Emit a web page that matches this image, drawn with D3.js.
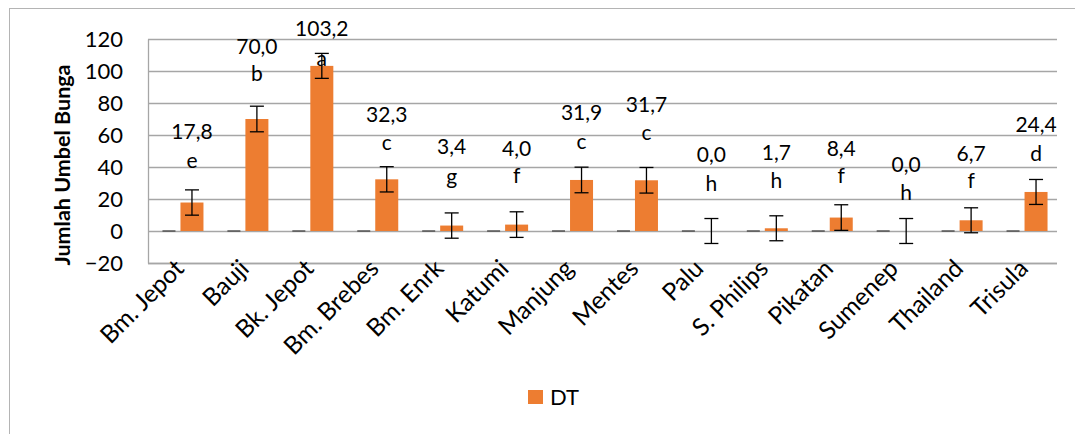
<!DOCTYPE html>
<html>
<head>
<meta charset="utf-8">
<script src="https://cdn.jsdelivr.net/npm/d3@7"></script>
<style>
  html, body { margin: 0; padding: 0; background: #fff; }
  svg { display: block; }
  text { font-family: Lato, "Open Sans", sans-serif; fill: #000; }
</style>
</head>
<body>
<svg id="chart" width="1075" height="434"></svg>
<script>
// ---- data ----
const categories = ["Bm. Jepot", "Bauji", "Bk. Jepot", "Bm. Brebes", "Bm. Enrk", "Katumi", "Manjung",
  "Mentes", "Palu", "S. Philips", "Pikatan", "Sumenep", "Thailand", "Trisula"];
const seriesNames = ["", "DT"];
const hiddenValues = [0, 0, 0, 0, 0, 0, 0, 0, 0, 0, 0, 0, 0, 0];
const dtValues = [17.8, 70.0, 103.2, 32.3, 3.4, 4.0, 31.9, 31.7, 0.0, 1.7, 8.4, 0.0, 6.7, 24.4];
const dtErrors = [7.9, 8.0, 7.8, 7.9, 7.9, 8.0, 8.0, 8.0, 7.8, 7.8, 8.0, 7.8, 7.8, 7.8];
const letters = ["e", "b", "a", "c", "g", "f", "c", "c", "h", "h", "f", "h", "f", "d"];
const yTicks = [-20, 0, 20, 40, 60, 80, 100, 120];

// label layout (in data units) — where the value label and the letter sit
const valueLabelAt = [62.1, 115.2, 126.7, 72.9, 53.1, 51.7, 73.9, 79.2, 47.9, 48.9, 51.3, 41.3, 48.6, 66.3];
const letterLabelAt = [43.3, 97.5, 107.3, 54.8, 33.3, 33.9, 55.2, 61.1, 28.8, 30.8, 33.9, 23.6, 30.8, 47.9];

// ---- layout ----
const plot = { left: 148, right: 1057, top: 39, bottom: 263 };
const svg = d3.select("#chart");

// outer frame
svg.append("rect").attr("x", 9.5).attr("y", 8.5).attr("width", 1100).attr("height", 460)
  .attr("fill", "none").attr("stroke", "#b4b4b4").attr("stroke-width", 1);

const x = d3.scaleBand().domain(categories).range([plot.left, plot.right]).paddingInner(0).paddingOuter(0);
const inner = d3.scaleBand().domain(seriesNames)
  .range([x.bandwidth() / 2 - 23, x.bandwidth() / 2 + 23]).padding(0);
const y = d3.scaleLinear().domain([-20, 120]).range([plot.bottom, plot.top]);

// gridlines
svg.append("g").selectAll("line").data(yTicks).join("line")
  .attr("x1", plot.left).attr("x2", plot.right)
  .attr("y1", d => Math.round(y(d)) + 0.5).attr("y2", d => Math.round(y(d)) + 0.5)
  .attr("stroke", "#a6a6a6").attr("stroke-width", 1.3);

// y axis
const yAxis = d3.axisLeft(y).tickValues(yTicks).tickSize(0).tickPadding(25);
const gy = svg.append("g").attr("transform", `translate(${plot.left},0)`).call(yAxis);
gy.select(".domain").attr("stroke", "#a6a6a6").attr("stroke-width", 1.3);
gy.selectAll("text").style("font-family", "Lato, sans-serif").style("font-size", "22px")
  .attr("fill", "#000").attr("dy", "0.36em");

// x axis line at bottom
svg.append("line").attr("x1", plot.left).attr("x2", plot.right)
  .attr("y1", plot.bottom + 0.5).attr("y2", plot.bottom + 0.5)
  .attr("stroke", "#a6a6a6").attr("stroke-width", 1.3);

// x labels
svg.append("g").selectAll("text").data(categories).join("text")
  .attr("transform", d => `translate(${x(d) + x.bandwidth() / 2 + 5},${plot.bottom + 7}) rotate(-45)`)
  .attr("text-anchor", "end")
  .style("font-size", "24.5px").text(d => d);

// bars
const barW = inner.bandwidth();
svg.append("g").selectAll("rect").data(dtValues).join("rect")
  .attr("x", (d, i) => x(categories[i]) + inner("DT"))
  .attr("y", d => y(Math.max(0, d)))
  .attr("width", barW)
  .attr("height", d => Math.abs(y(d) - y(0)))
  .attr("fill", "#ED7D31");

// hidden series error caps (zero value, zero error)
const cap = 7;
svg.append("g").selectAll("line").data(hiddenValues).join("line")
  .attr("x1", (d, i) => x(categories[i]) + inner("") + barW / 2 - cap + 0.5)
  .attr("x2", (d, i) => x(categories[i]) + inner("") + barW / 2 + cap - 0.5)
  .attr("y1", d => y(d)).attr("y2", d => y(d))
  .attr("stroke", "#404040").attr("stroke-width", 1.3);

// error bars
const eg = svg.append("g").attr("stroke", "#000").attr("stroke-width", 1.3);
dtValues.forEach((v, i) => {
  const cx = x(categories[i]) + inner("DT") + barW / 2;
  const e = dtErrors[i];
  eg.append("line").attr("x1", cx).attr("x2", cx).attr("y1", y(v + e)).attr("y2", y(v - e));
  eg.append("line").attr("x1", cx - cap).attr("x2", cx + cap).attr("y1", y(v + e)).attr("y2", y(v + e));
  eg.append("line").attr("x1", cx - cap).attr("x2", cx + cap).attr("y1", y(v - e)).attr("y2", y(v - e));
});

// value labels and letters
const fmt = v => d3.format(".1f")(v).replace(".", ",");
const lg = svg.append("g").attr("text-anchor", "middle").style("font-size", "21px");
dtValues.forEach((v, i) => {
  const cx = x(categories[i]) + inner("DT") + barW / 2;
  lg.append("text").attr("x", cx).attr("y", y(valueLabelAt[i])).attr("dy", "0.36em").text(fmt(v));
  lg.append("text").attr("x", cx).attr("y", y(letterLabelAt[i])).attr("dy", "0.30em").text(letters[i]);
});

// y axis title
svg.append("text")
  .attr("transform", `translate(62,165) rotate(-90)`)
  .attr("text-anchor", "middle").attr("dy", "0.35em")
  .style("font-size", "21.5px").style("font-weight", "bold")
  .text("Jumlah Umbel Bunga");

// legend
const leg = svg.append("g").attr("transform", "translate(528,390)");
leg.append("rect").attr("width", 15).attr("height", 14).attr("fill", "#ED7D31");
leg.append("text").attr("x", 22).attr("y", 7).attr("dy", "0.36em").style("font-size", "22px").text("DT");
</script>
</body>
</html>
